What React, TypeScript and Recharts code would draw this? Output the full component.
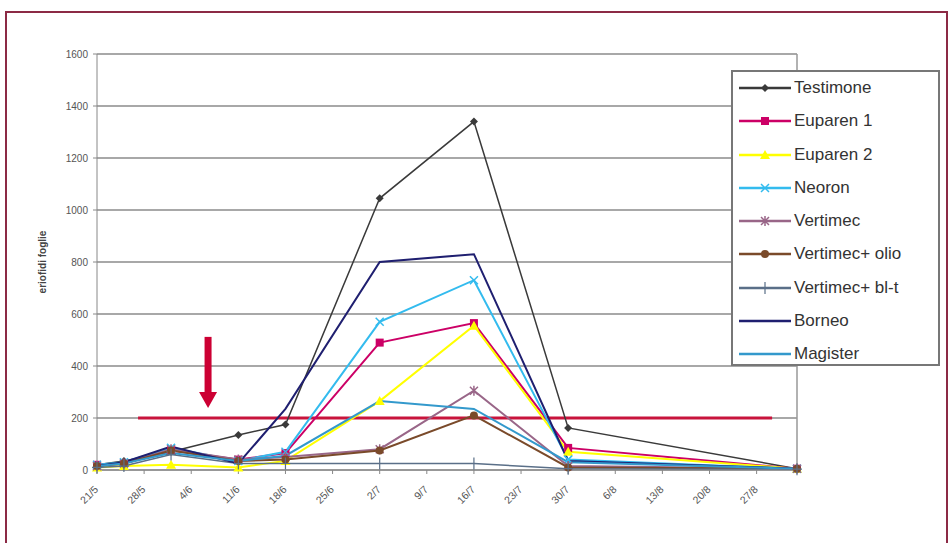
import { LineChart, Line, XAxis, YAxis, CartesianGrid, ReferenceLine, ReferenceDot } from 'recharts'

// days after 21/5
const days = [0, 4, 11, 21, 28, 42, 56, 70, 104]
const xTicks = [0, 7, 14, 21, 28, 35, 42, 49, 56, 63, 70, 77, 84, 91, 98]
const yTicks = [0, 200, 400, 600, 800, 1000, 1200, 1400, 1600]

const testimone = [20, 35, 70, 135, 175, 1045, 1340, 162, 5]
const euparen1 = [20, 25, 75, 40, 65, 490, 565, 85, 5]
const euparen2 = [10, 15, 20, 10, 35, 265, 555, 70, 5]
const neoron = [20, 30, 85, 35, 70, 570, 730, 40, 5]
const vertimec = [15, 25, 80, 40, 50, 80, 305, 15, 5]
const vertimecOlio = [15, 25, 75, 35, 40, 75, 210, 10, 5]
const vertimecBlt = [10, 15, 60, 25, 25, 25, 25, 5, 3]
const borneo = [15, 30, 90, 25, 235, 800, 830, 35, 5]
const magister = [15, 25, 65, 35, 55, 265, 235, 30, 5]

const threshold = 200

const series = [
  { key: 'testimone', name: 'Testimone', values: testimone, color: '#3a3a3a', marker: 'diamond', width: 1.5 },
  { key: 'euparen1', name: 'Euparen 1', values: euparen1, color: '#cc0066', marker: 'square', width: 2 },
  { key: 'euparen2', name: 'Euparen 2', values: euparen2, color: '#ffff00', marker: 'triangle', width: 2 },
  { key: 'neoron', name: 'Neoron', values: neoron, color: '#33bbee', marker: 'x', width: 2 },
  { key: 'vertimec', name: 'Vertimec', values: vertimec, color: '#996688', marker: 'star', width: 2 },
  { key: 'vertimecOlio', name: 'Vertimec+ olio', values: vertimecOlio, color: '#7a4a2a', marker: 'circle', width: 2 },
  { key: 'vertimecBlt', name: 'Vertimec+ bl-t', values: vertimecBlt, color: '#5a6f88', marker: 'plus', width: 1.5 },
  { key: 'borneo', name: 'Borneo', values: borneo, color: '#1f1f70', marker: 'none', width: 2 },
  { key: 'magister', name: 'Magister', values: magister, color: '#3399cc', marker: 'none', width: 2 },
]

const data = days.map((d, i) => {
  const row: any = { day: d }
  series.forEach((s) => (row[s.key] = s.values[i]))
  return row
})

const fmtDay = (d: number) => {
  const dt = new Date(2000, 4, 21 + d)
  return `${dt.getDate()}/${dt.getMonth() + 1}`
}

function Marker({ cx, cy, shape, color }: any) {
  if (cx == null || cy == null || shape === 'none') return null
  switch (shape) {
    case 'diamond':
      return <path d={`M${cx},${cy - 4}L${cx + 4},${cy}L${cx},${cy + 4}L${cx - 4},${cy}Z`} fill={color} />
    case 'square':
      return <rect x={cx - 4} y={cy - 4} width={8} height={8} fill={color} />
    case 'triangle':
      return <path d={`M${cx},${cy - 5}L${cx + 5},${cy + 4}L${cx - 5},${cy + 4}Z`} fill={color} />
    case 'x':
      return <path d={`M${cx - 4},${cy - 4}L${cx + 4},${cy + 4}M${cx - 4},${cy + 4}L${cx + 4},${cy - 4}`} stroke={color} strokeWidth={1.5} />
    case 'star':
      return <path d={`M${cx - 4},${cy - 4}L${cx + 4},${cy + 4}M${cx - 4},${cy + 4}L${cx + 4},${cy - 4}M${cx},${cy - 5}L${cx},${cy + 5}`} stroke={color} strokeWidth={1.5} />
    case 'circle':
      return <circle cx={cx} cy={cy} r={4} fill={color} />
    case 'plus':
      return <path d={`M${cx - 5},${cy}L${cx + 5},${cy}M${cx},${cy - 6}L${cx},${cy + 6}`} stroke={color} strokeWidth={1.2} />
  }
  return null
}

function XTick({ x, y, payload }: any) {
  return (
    <g transform={`translate(${x + 2},${y + 14})`}>
      <text textAnchor="end" transform="rotate(-45)" fontSize={10.5} fill="#555" fontFamily="Liberation Sans, Arial, sans-serif">
        {fmtDay(payload.value)}
      </text>
    </g>
  )
}

function ArrowHead({ cx, cy }: any) {
  if (cx == null || cy == null) return null
  return <path d={`M${cx - 9},${cy - 16}L${cx + 9},${cy - 16}L${cx},${cy}Z`} fill="#cc0033" />
}

function LegendBox() {
  return (
    <div
      style={{
        position: 'absolute',
        left: 731,
        top: 70,
        width: 205,
        height: 292,
        border: '2px solid #777',
        background: '#fff',
        fontFamily: 'Liberation Sans, Arial, sans-serif',
        fontSize: 17,
        color: '#333',
      }}
    >
      {series.map((s, i) => (
        <div key={s.key} style={{ position: 'absolute', left: 5, top: 4 + i * 33.25, height: 24, display: 'flex', alignItems: 'center' }}>
          <svg width={54} height={20}>
            <line x1={1} y1={10} x2={53} y2={10} stroke={s.color} strokeWidth={2.5} />
            <Marker cx={27} cy={10} shape={s.marker} color={s.color} />
          </svg>
          <span style={{ marginLeft: 2 }}>{s.name}</span>
        </div>
      ))}
    </div>
  )
}

export default function App() {
  return (
    <div style={{ position: 'absolute', left: 0, top: 0, width: 951, height: 543, background: '#fff', overflow: 'hidden' }}>
      <div style={{ position: 'absolute', left: 5, top: 11, width: 939, height: 560, border: '2px solid #8c2a45' }} />
      <div style={{ position: 'absolute', left: 0, top: 0 }}>
        <LineChart width={951} height={543} data={data} margin={{ top: 54, right: 154, bottom: 33, left: 20 }}>
          <CartesianGrid vertical={false} stroke="#a8a8a8" strokeWidth={2} />
          <XAxis
            dataKey="day"
            type="number"
            domain={[0, 104]}
            ticks={xTicks}
            interval={0}
            tick={<XTick />}
            tickSize={4}
            height={40}
            stroke="#888"
          />
          <YAxis
            domain={[0, 1600]}
            ticks={yTicks}
            width={77}
            tickSize={4}
            tickMargin={5}
            stroke="#888"
            tick={{ fontSize: 10, fill: '#555', fontFamily: 'Liberation Sans, Arial, sans-serif' }}
            label={{
              position: 'insideLeft',
              content: ({ viewBox }: any) => {
                const cx = 46
                const cy = viewBox.y + viewBox.height / 2
                return (
                  <text x={cx} y={cy} transform={`rotate(-90,${cx},${cy})`} textAnchor="middle" fontSize={10} fontWeight="bold" fill="#444" fontFamily="Liberation Sans, Arial, sans-serif">
                    eriofidi foglie
                  </text>
                )
              },
            }}
          />
          <ReferenceLine x={104} stroke="#999" strokeWidth={1.5} />
          <ReferenceLine
            segment={[{ x: 6.1, y: threshold }, { x: 100.3, y: threshold }]}
            stroke="#c8143c"
            strokeWidth={3}
          />
          <ReferenceLine
            segment={[{ x: 16.5, y: 512 }, { x: 16.5, y: 290 }]}
            stroke="#cc0033"
            strokeWidth={7}
          />
          <ReferenceDot x={16.5} y={238} r={0} shape={<ArrowHead />} />
          {series.map((s) => (
            <Line
              key={s.key}
              dataKey={s.key}
              name={s.name}
              stroke={s.color}
              strokeWidth={s.width}
              isAnimationActive={false}
              dot={(p: any) => <Marker key={`${s.key}-${p.index}`} cx={p.cx} cy={p.cy} shape={s.marker} color={s.color} />}
              activeDot={false}
            />
          ))}
        </LineChart>
      </div>
      <LegendBox />
    </div>
  )
}
